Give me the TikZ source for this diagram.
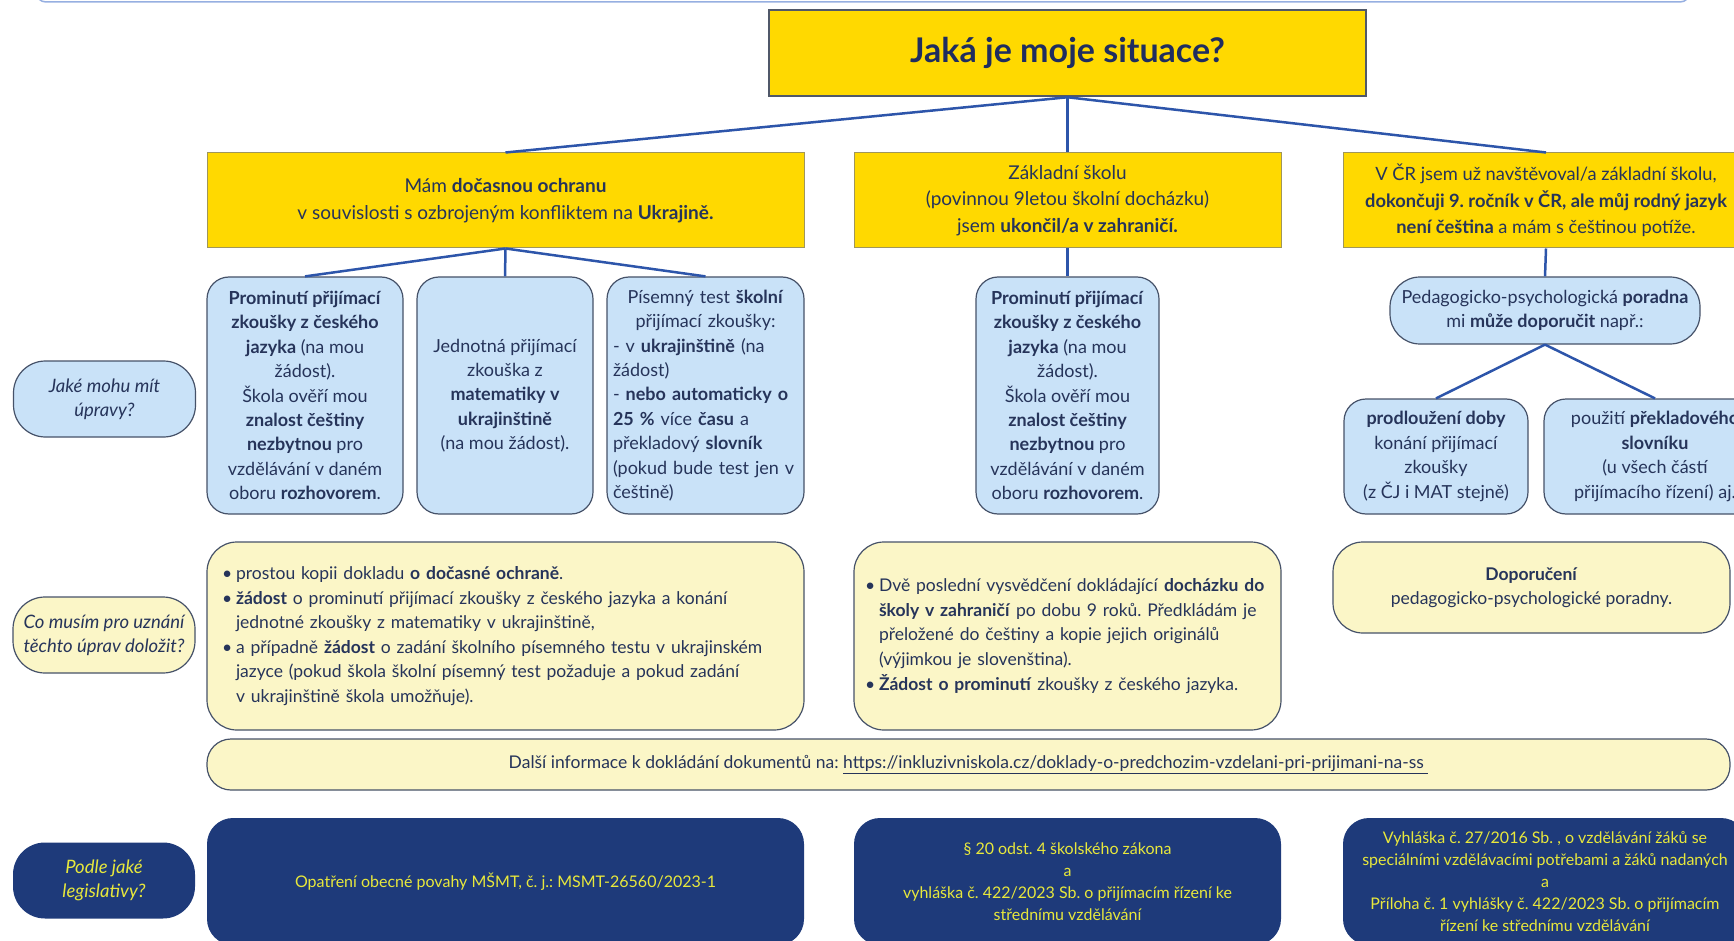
\documentclass[tikz,border=0pt]{standalone}
\usepackage{fontspec}
\setmainfont{Lato}
\definecolor{gelb}{RGB}{255,217,0}
\definecolor{yline}{RGB}{160,150,90}
\definecolor{tline}{RGB}{80,88,105}
\definecolor{navy}{RGB}{31,45,95}
\definecolor{txt}{RGB}{38,52,90}
\definecolor{modra}{RGB}{201,226,248}
\definecolor{krem}{RGB}{251,246,199}
\definecolor{tmava}{RGB}{30,58,122}
\definecolor{zluta}{RGB}{232,232,60}
\definecolor{bline}{RGB}{70,82,105}
\definecolor{linka}{RGB}{45,85,170}
\definecolor{horni}{RGB}{150,175,225}
\newcommand\odr{\makebox[14pt][l]{\textbullet}}
\newcommand\odsaz{\hspace*{14pt}}
\begin{document}
\frenchspacing
\begin{tikzpicture}[x=1pt,y=-1pt,
	tbox/.style={shape=rectangle,fill=gelb,draw=tline,line width=2.5pt,text=navy,font=\fontsize{34}{40}\selectfont\bfseries,minimum width=597pt,minimum height=86pt},
	ybox/.style={shape=rectangle,fill=gelb,draw=yline,line width=1pt,text=txt,align=center,font=\fontsize{19}{26.5}\selectfont,minimum height=95pt},
	bbox/.style={shape=rectangle,rounded corners=22pt,fill=modra,draw=bline,line width=1.2pt,text=txt,align=center,font=\fontsize{18}{24.4}\selectfont},
	cbox/.style={shape=rectangle,rounded corners=30pt,fill=krem,draw=bline,line width=1.2pt,text=txt,font=\fontsize{17.5}{24.6}\selectfont},
	dbox/.style={shape=rectangle,rounded corners=26pt,fill=tmava,text=zluta,align=center,font=\fontsize{16}{22}\selectfont,minimum height=127pt},
	qbox/.style={shape=rectangle,rounded corners=32pt,draw=bline,line width=1.2pt,align=center,font=\fontsize{18.5}{24}\selectfont\itshape,minimum width=182pt,minimum height=76pt},
	spoj/.style={draw=linka,line width=2.5pt}]
	\useasboundingbox (0,0) rectangle (1734,941);
	\draw[draw=horni,line width=1.5pt,rounded corners=10pt] (36,-30) -- (36,2) -- (1690,2) -- (1690,-30);
	\node[tbox](a) at (1067.5,53) {Jaká je moje situace?};
	\node[ybox,minimum width=597pt](b) at (505.5,200.5) {Mám \textbf{dočasnou ochranu}\\v souvislosti s ozbrojeným konfliktem na \textbf{Ukrajině.}};
	\node[ybox,minimum width=427pt](c) at (1067.5,200.5) {Základní školu\\(povinnou 9letou školní docházku)\\jsem \textbf{ukončil/a v zahraničí.}};
	\node[ybox,minimum width=406pt,font=\fontsize{18.3}{26.5}\selectfont](d) at (1546,200.5) {V ČR jsem už navštěvoval/a základní školu,\\\textbf{dokončuji 9. ročník v ČR, ale můj rodný jazyk}\\\textbf{není čeština} a mám s češtinou potíže.};
	\node[bbox,minimum width=196pt,minimum height=237pt](e) at (305,395.5) {\textbf{Prominutí přijímací}\\\textbf{zkoušky z českého}\\\textbf{jazyka} (na mou\\žádost).\\Škola ověří mou\\\textbf{znalost češtiny}\\\textbf{nezbytnou} pro\\vzdělávání v daném\\oboru \textbf{rozhovorem}.};
	\node[bbox,minimum width=176pt,minimum height=237pt](f) at (505,395.5) {Jednotná přijímací\\zkouška z\\\textbf{matematiky v}\\\textbf{ukrajinštině}\\(na mou žádost).};
	\node[bbox,minimum width=197pt,minimum height=237pt,text width=185pt,align=left,inner xsep=6pt](g) at (705.5,395.5) {\makebox[185pt]{Písemný test \textbf{školní}}\\\makebox[185pt]{přijímací zkoušky:}\\- v \textbf{ukrajinštině} (na\\žádost)\\- \textbf{nebo automaticky o}\\\textbf{25 \%} více \textbf{času} a\\překladový \textbf{slovník}\\(pokud bude test jen v\\češtině)};
	\node[bbox,minimum width=183pt,minimum height=237pt](h) at (1067.5,395.5) {\textbf{Prominutí přijímací}\\\textbf{zkoušky z českého}\\\textbf{jazyka} (na mou\\žádost).\\Škola ověří mou\\\textbf{znalost češtiny}\\\textbf{nezbytnou} pro\\vzdělávání v daném\\oboru \textbf{rozhovorem}.};
	\node[bbox,minimum width=310pt,minimum height=67pt,rounded corners=30pt](i) at (1545,310.5) {Pedagogicko-psychologická \textbf{poradna}\\mi \textbf{může doporučit} např.:};
	\node[bbox,minimum width=184pt,minimum height=115pt](j) at (1436,456.5) {\textbf{prodloužení doby}\\konání přijímací\\zkoušky\\(z ČJ i MAT stejně)};
	\node[bbox,minimum width=222pt,minimum height=115pt](k) at (1655,456.5) {použití \textbf{překladového}\\\textbf{slovníku}\\(u všech částí\\přijímacího řízení) aj.};
	\node[qbox,fill=modra,text=txt](l) at (104.5,399) {Jaké mohu mít\\úpravy?};
	\node[qbox,fill=krem,text=txt](m) at (104,635) {Co musím pro uznání\\těchto úprav doložit?};
	\node[qbox,fill=tmava,draw=none,text=zluta](n) at (104,880.5) {Podle jaké\\legislativy?};
	\node[cbox,minimum width=597pt,minimum height=188pt,text width=567pt,align=left](o) at (505.5,636) {\odr prostou kopii dokladu \textbf{o dočasné ochraně}.\\\makebox[567pt][s]{\odr\textbf{žádost} o prominutí přijímací zkoušky z českého jazyka a konání}\\\odsaz jednotné zkoušky z matematiky v ukrajinštině,\\\makebox[567pt][s]{\odr a případně \textbf{žádost} o zadání školního písemného testu v ukrajinském}\\\odsaz jazyce (pokud škola školní písemný test požaduje a pokud zadání\\\odsaz v ukrajinštině škola umožňuje).};
	\node[cbox,minimum width=427pt,minimum height=188pt,text width=405pt,align=left](p) at (1067.5,636) {\odr Dvě poslední vysvědčení dokládající \textbf{docházku do}\\\odsaz\textbf{školy v zahraničí} po dobu 9 roků. Předkládám je\\\odsaz přeložené do češtiny a kopie jejich originálů\\\odsaz (výjimkou je slovenština).\\\odr\textbf{Žádost o prominutí} zkoušky z českého jazyka.};
	\node[cbox,minimum width=397pt,minimum height=91pt,align=center](q) at (1531.5,587.5) {\textbf{Doporučení}\\pedagogicko-psychologické poradny.};
	\node[cbox,minimum width=1523pt,minimum height=51pt,rounded corners=24pt](r) at (968.5,764.5) {Další informace k dokládání dokumentů na: \underline{https://inkluzivniskola.cz/doklady-o-predchozim-vzdelani-pri-prijimani-na-ss\ }};
	\node[dbox,minimum width=597pt](s) at (505.5,881.5) {Opatření obecné povahy MŠMT, č. j.: MSMT-26560/2023-1};
	\node[dbox,minimum width=427pt](t) at (1067.5,881.5) {§ 20 odst. 4 školského zákona\\a\\vyhláška č. 422/2023 Sb. o přijímacím řízení ke\\střednímu vzdělávání};
	\node[dbox,minimum width=404pt](u) at (1545,881.5) {Vyhláška č. 27/2016 Sb. , o vzdělávání žáků se\\speciálními vzdělávacími potřebami a žáků nadaných\\a\\Příloha č. 1 vyhlášky č. 422/2023 Sb. o přijímacím\\řízení ke střednímu vzdělávání};
	\draw[spoj] (a.south) -- (b.north);
	\draw[spoj] (a.south) -- (c.north);
	\draw[spoj] (a.south) -- (d.north);
	\draw[spoj] (b.south) -- (e.north);
	\draw[spoj] (b.south) -- (f.north);
	\draw[spoj] (b.south) -- (g.north);
	\draw[spoj] (c.south) -- (h.north);
	\draw[spoj] (d.south) -- (i.north);
	\draw[spoj] (i.south) -- (j.north);
	\draw[spoj] (i.south) -- (k.north);
\end{tikzpicture}
\end{document}
